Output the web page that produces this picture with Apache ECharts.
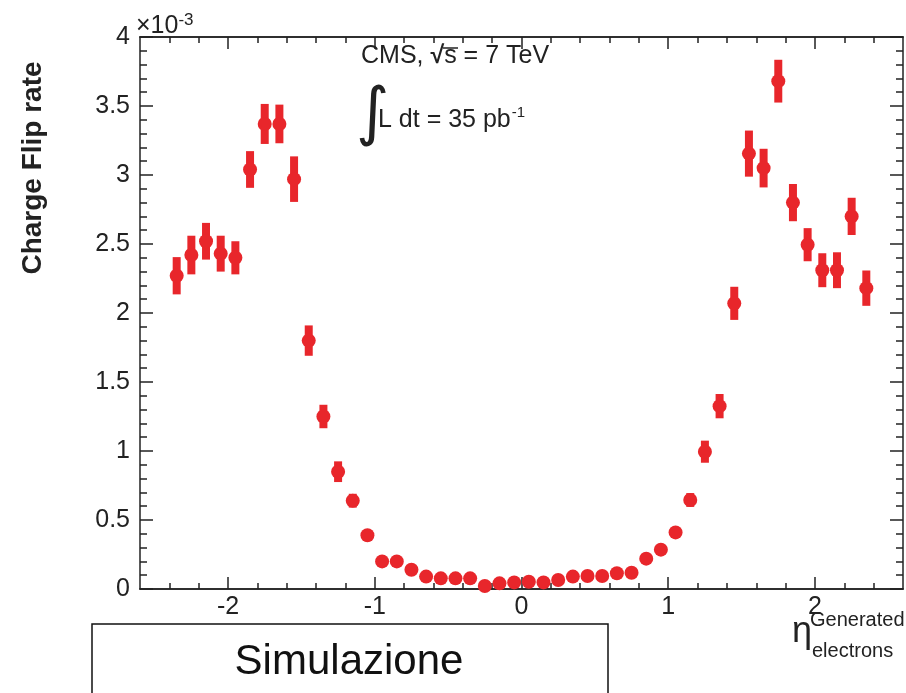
<!DOCTYPE html>
<html>
<head>
<meta charset="utf-8">
<script src="https://cdn.jsdelivr.net/npm/echarts@6/dist/echarts.min.js"></script>
<style>
  html, body { margin: 0; padding: 0; background: #fff; }
  #main { width: 906px; height: 693px; }
</style>
</head>
<body>
<div id="main"></div>
<script>
// bin centres in eta, charge flip rate (x 1e-3) and its uncertainty
const eta = [
  -2.35, -2.25, -2.15, -2.05, -1.95, -1.85, -1.75, -1.65, -1.55, -1.45, -1.35, -1.25,
  -1.15, -1.05, -0.95, -0.85, -0.75, -0.65, -0.55, -0.45, -0.35, -0.25, -0.15, -0.05,
  0.05, 0.15, 0.25, 0.35, 0.45, 0.55, 0.65, 0.75, 0.85, 0.95, 1.05, 1.15,
  1.25, 1.35, 1.45, 1.55, 1.65, 1.75, 1.85, 1.95, 2.05, 2.15, 2.25, 2.35
];
const rate = [
  2.27, 2.42, 2.52, 2.43, 2.40, 3.04, 3.37, 3.37, 2.97, 1.80, 1.25, 0.85,
  0.64, 0.39, 0.20, 0.20, 0.14, 0.09, 0.077, 0.077, 0.077, 0.022, 0.041, 0.048,
  0.053, 0.048, 0.065, 0.09, 0.094, 0.094, 0.114, 0.118, 0.22, 0.285, 0.41, 0.645,
  0.995, 1.325, 2.07, 3.155, 3.05, 3.68, 2.80, 2.495, 2.31, 2.31, 2.70, 2.18
];
const rateErr = [
  0.135, 0.14, 0.133, 0.13, 0.12, 0.133, 0.145, 0.14, 0.165, 0.11, 0.085, 0.075,
  0.05, 0.035, 0.02, 0.02, 0.015, 0.01, 0.01, 0.01, 0.01, 0.01, 0.01, 0.01,
  0.01, 0.01, 0.01, 0.01, 0.01, 0.01, 0.01, 0.015, 0.02, 0.025, 0.035, 0.05,
  0.08, 0.088, 0.12, 0.167, 0.14, 0.155, 0.135, 0.12, 0.123, 0.13, 0.135, 0.128
];
const xMajorTicks = [-2, -1, 0, 1, 2];
const xMinorTicks = [-2.4, -2.2, -1.8, -1.6, -1.4, -1.2, -0.8, -0.6, -0.4, -0.2,
  0.2, 0.4, 0.6, 0.8, 1.2, 1.4, 1.6, 1.8, 2.2, 2.4];

const FONT = '"Liberation Sans", Arial, sans-serif';
const RED = '#e8262b';
const AX = '#222';

const points = eta.map((x, i) => [x, rate[i], rateErr[i]]);

const chart = echarts.init(document.getElementById('main'));

function xAxisDef(position, ticks, len, labels) {
  return {
    type: 'value', position: position, min: -2.6, max: 2.6,
    axisLine: { show: true, onZero: false, lineStyle: { color: AX, width: 1.5 } },
    axisTick: { show: true, inside: true, length: len, customValues: ticks,
      lineStyle: { color: AX, width: 1.5 } },
    axisLabel: labels ? {
      show: true, customValues: xMajorTicks, margin: 6,
      fontFamily: FONT, fontSize: 25, color: AX
    } : { show: false },
    splitLine: { show: false }
  };
}

function yAxisDef(position, labels) {
  return {
    type: 'value', position: position, min: 0, max: 4, interval: 0.5,
    axisLine: { show: true, onZero: false, lineStyle: { color: AX, width: 1.5 } },
    axisTick: { show: true, inside: true, length: 13, lineStyle: { color: AX, width: 1.5 } },
    minorTick: { show: true, splitNumber: 5, length: 7, lineStyle: { color: AX, width: 1.5 } },
    axisLabel: labels ? {
      show: true, margin: 10, fontFamily: FONT, fontSize: 25, color: AX
    } : { show: false },
    splitLine: { show: false },
    minorSplitLine: { show: false }
  };
}

chart.setOption({
  animation: false,
  backgroundColor: '#fff',
  grid: { left: 140, right: 3, top: 37, bottom: 104 },
  xAxis: [
    xAxisDef('bottom', xMajorTicks, 12, true),
    xAxisDef('bottom', xMinorTicks, 6, false),
    xAxisDef('top', xMajorTicks, 12, false),
    xAxisDef('top', xMinorTicks, 6, false)
  ],
  yAxis: [
    yAxisDef('left', true),
    yAxisDef('right', false)
  ],
  series: [
    {
      type: 'custom',
      xAxisIndex: 0, yAxisIndex: 0,
      data: points,
      renderItem: function (params, api) {
        const top = api.coord([api.value(0), api.value(1) + api.value(2)]);
        const bot = api.coord([api.value(0), api.value(1) - api.value(2)]);
        return {
          type: 'rect',
          shape: { x: top[0] - 4, y: top[1], width: 8, height: bot[1] - top[1] },
          style: { fill: RED }
        };
      },
      z: 2
    },
    {
      type: 'scatter',
      xAxisIndex: 0, yAxisIndex: 0,
      data: points,
      symbol: 'circle',
      symbolSize: 14,
      itemStyle: { color: RED, opacity: 1 },
      z: 3
    }
  ],
  graphic: [
    {
      type: 'text', x: 33, y: 168, rotation: Math.PI / 2,
      style: { text: 'Charge Flip rate', fontFamily: FONT, fontSize: 28,
        fontWeight: 'bold', fill: AX, align: 'center', verticalAlign: 'middle' }
    },
    {
      type: 'text', x: 136, y: 12,
      style: {
        text: '{a|×10}{b|-3}', fill: AX,
        rich: {
          a: { fontFamily: FONT, fontSize: 25, fill: AX },
          b: { fontFamily: FONT, fontSize: 17, fill: AX, padding: [0, 0, 12, 0] }
        }
      }
    },
    {
      type: 'text', x: 361, y: 44,
      style: {
        text: '{a|CMS, }{r|√}{a|s = 7 TeV}',
        rich: {
          a: { fontFamily: FONT, fontSize: 25, fill: AX },
          r: { fontFamily: FONT, fontSize: 25, fontWeight: 'bold', fill: AX }
        }
      }
    },
    {
      type: 'line', shape: { x1: 443, y1: 48, x2: 458, y2: 48 },
      style: { stroke: AX, lineWidth: 1.5 }
    },
    {
      type: 'text', x: 356, y: 84,
      style: { text: '∫', fontFamily: '"DejaVu Sans", sans-serif', fontSize: 64, fill: AX }
    },
    {
      type: 'text', x: 378, y: 105,
      style: {
        text: '{a|L dt = 35 pb}{b|-1}',
        rich: {
          a: { fontFamily: FONT, fontSize: 25, fill: AX },
          b: { fontFamily: FONT, fontSize: 15, fill: AX, padding: [0, 0, 16, 1] }
        }
      }
    },
    {
      type: 'rect', shape: { x: 92, y: 624, width: 516, height: 90 },
      style: { fill: '#fff', stroke: '#111', lineWidth: 1.5 }
    },
    {
      type: 'text', x: 349, y: 662,
      style: { text: 'Simulazione', fontFamily: FONT, fontSize: 42, fill: '#111',
        align: 'center', verticalAlign: 'middle' }
    },
    {
      type: 'text', x: 792, y: 614,
      style: { text: 'η', fontFamily: FONT, fontSize: 36, fill: AX }
    },
    {
      type: 'text', x: 810, y: 610,
      style: { text: 'Generated', fontFamily: FONT, fontSize: 20, fill: AX }
    },
    {
      type: 'text', x: 812, y: 641,
      style: { text: 'electrons', fontFamily: FONT, fontSize: 20, fill: AX }
    }
  ]
});
</script>
</body>
</html>
